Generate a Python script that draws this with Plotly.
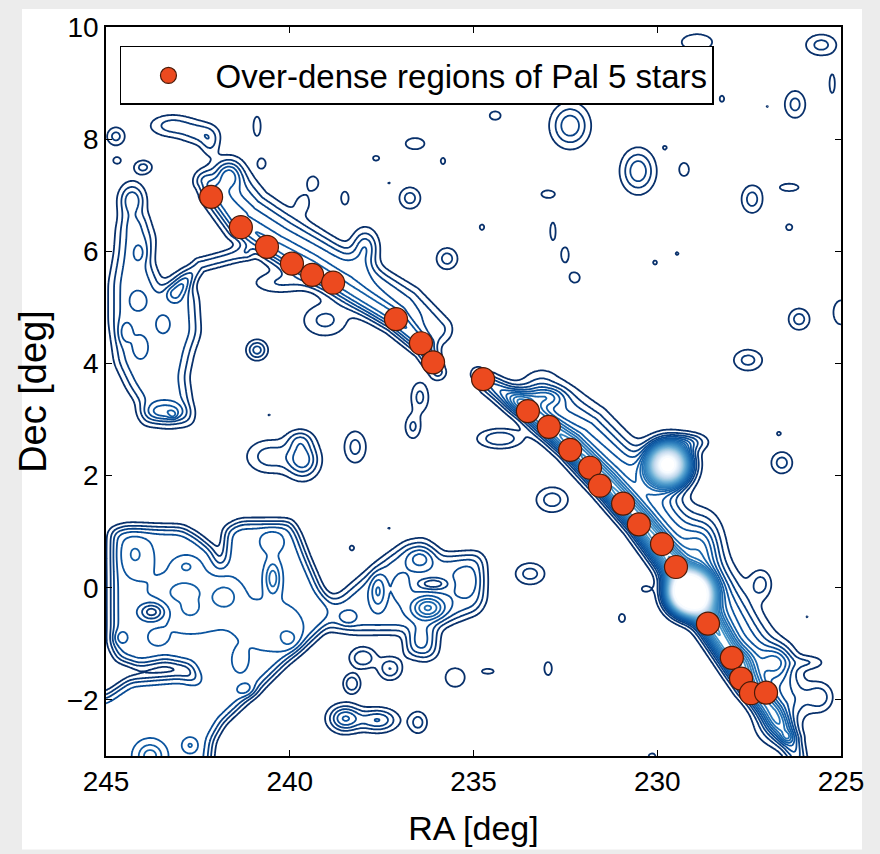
import numpy as np
import plotly.graph_objects as go

# ---------------- data ----------------
# Over-dense regions of Pal 5 stars (RA, Dec in deg)
pal5_ra = [242.14, 241.33, 240.62, 239.94, 239.39, 238.82, 237.11, 236.43, 236.10,
           234.74, 233.52, 232.95, 232.37, 231.83, 231.56, 230.93, 230.50, 229.87,
           229.49, 228.62, 227.97, 227.72, 227.45, 227.04]
pal5_dec = [6.97, 6.43, 6.08, 5.78, 5.58, 5.44, 4.79, 4.36, 4.02,
            3.72, 3.15, 2.87, 2.46, 2.14, 1.82, 1.50, 1.13, 0.78,
            0.37, -0.64, -1.25, -1.62, -1.88, -1.87]

# Isolated small over-densities in the map (RA, Dec, widths in deg, peak level)
noise_ra = [243.20, 242.44, 242.17, 240.89, 244.73, 244.70, 243.99, 244.29, 239.37, 239.64,
            238.50, 237.95, 237.65, 237.30, 236.73, 236.59, 235.72, 235.83, 234.77, 234.41,
            232.97, 232.84, 232.51, 232.24, 232.37, 230.52, 229.79, 229.27, 230.06, 229.46,
            228.24, 227.01, 226.25, 225.54, 225.24, 228.92, 227.42, 226.41, 226.41, 226.14,
            225.00, 227.53, 226.61, 226.69, 225.92, 225.57, 227.18, 230.33, 230.96, 232.97,
            233.46, 232.86, 230.14,
            240.54, 239.64, 239.72, 238.22, 236.46, 236.65, 240.56, 238.31, 237.30,
            238.50, 237.60, 236.51, 238.31, 238.01, 237.27, 235.50, 234.61]
noise_dec = [8.24, 8.10, 7.92, 8.23, 8.05, 7.62, 7.50, 6.91, 7.22, 6.86,
             6.95, 6.06, 7.66, 7.22, 6.95, 7.92, 5.87, 7.61, 6.43, 8.42,
             7.02, 6.36, 5.94, 5.53, 8.24, 7.43, 7.85, 7.46, 5.80, 5.96,
             8.72, 8.58, 8.62, 9.68, 8.99, 9.73, 6.93, 7.14, 6.43, 4.79,
             4.91, 4.06, 2.23, 2.75, -0.52, -1.95, 0.07, -0.02, -0.54, -1.44,
             0.25, 1.57, -3.02,
             2.34, 2.28, 2.64, 2.51, 3.40, 2.87, 3.08, 0.71, 1.06,
             -2.33, -2.36, -2.40, -1.71, -1.25, -1.44, -1.60, -1.49]
noise_sig_ra = [0.43, 0.35, 0.18, 0.12, 0.18, 0.14, 0.18, 0.25, 0.18, 0.18,
                0.14, 0.25, 0.14, 0.07, 0.21, 0.31, 0.21, 0.10, 0.10, 0.18,
                0.25, 0.10, 0.14, 0.18, 0.35, 0.31, 0.09, 0.18, 0.10, 0.09,
                0.10, 0.07, 0.21, 0.31, 0.10, 0.35, 0.21, 0.35, 0.14, 0.21,
                0.25, 0.29, 0.21, 0.10, 0.07, 0.25, 0.21, 0.14, 0.14, 0.14,
                0.29, 0.31, 0.14,
                0.45, 0.30, 0.25, 0.22, 0.18, 0.16, 0.07, 0.10, 0.07,
                0.30, 0.36, 0.18, 0.16, 0.25, 0.22, 0.22, 0.22]
noise_sig_dec = [0.14, 0.14, 0.16, 0.21, 0.12, 0.08, 0.09, 0.21, 0.14, 0.14,
                 0.16, 0.23, 0.07, 0.045, 0.14, 0.12, 0.14, 0.09, 0.08, 0.09,
                 0.09, 0.21, 0.18, 0.12, 0.26, 0.26, 0.06, 0.16, 0.07, 0.06,
                 0.09, 0.045, 0.18, 0.14, 0.23, 0.12, 0.18, 0.09, 0.09, 0.14,
                 0.26, 0.14, 0.14, 0.06, 0.045, 0.18, 0.18, 0.07, 0.12, 0.16,
                 0.14, 0.16, 0.09,
                 0.21, 0.22, 0.13, 0.21, 0.20, 0.16, 0.045, 0.07, 0.045,
                 0.16, 0.14, 0.14, 0.12, 0.13, 0.14, 0.14, 0.06]
noise_amp = [2.5, 2.2, 1.8, 1.4, 2.4, 1.3, 2.4, 3.8, 1.4, 1.4,
             1.3, 3.8, 1.2, 1.05, 2.5, 1.4, 2.5, 1.2, 1.2, 1.4,
             1.3, 1.3, 1.3, 1.3, 3.8, 3.8, 1.1, 1.3, 1.15, 1.1,
             1.2, 1.05, 2.4, 2.4, 1.3, 2.0, 2.5, 1.3, 1.2, 2.5,
             1.4, 2.4, 2.5, 1.15, 1.05, 2.5, 2.4, 1.2, 1.2, 1.3,
             2.5, 2.6, 1.3,
             2.6, 4.5, 2.2, 2.4, 2.3, 2.2, 1.05, 1.2, 1.05,
             5.0, 4.0, 2.5, 3.0, 3.0, 3.0, 2.0, 1.3]

# Outlines of the extended over-dense fields (RA, Dec vertices) and their plateau level
ll_ra = [244.84, 244.48, 242.93, 242.55, 242.12, 241.90, 241.79, 241.73, 241.35, 239.99,
         239.80, 239.53, 239.18, 238.82, 238.90, 239.45, 240.13, 240.76, 241.35, 241.84,
         242.12, 242.22, 245.16, 245.16, 244.84, 244.35, 242.99, 242.52, 242.71, 243.39,
         244.07, 244.67, 244.84]
ll_dec = [1.01, 1.08, 1.06, 0.92, 0.69, 0.37, 0.48, 1.04, 1.17, 1.17,
          0.97, 0.51, -0.02, -0.32, -0.62, -0.94, -1.33, -1.74, -2.10, -2.40,
          -2.72, -3.25, -3.25, -2.01, -1.87, -1.65, -1.58, -1.65, -1.39, -1.30,
          -1.39, -1.26, -1.03]
mid_ra = [239.18, 238.63, 238.01, 237.35, 236.81, 236.37, 236.10, 235.83, 234.90, 234.74,
          234.74, 234.90, 235.64, 235.99, 236.05, 236.27, 236.78, 236.81, 237.54, 238.28,
          238.90, 239.18]
mid_dec = [-0.23, -0.18, 0.17, 0.53, 0.78, 0.83, 0.71, 0.56, 0.60, 0.48,
           -0.23, -0.41, -0.59, -0.71, -1.17, -1.25, -1.17, -0.77, -0.77, -0.77,
           -0.71, -0.64]
left_ra = [244.48, 243.94, 243.75, 243.80, 243.53, 242.85, 242.58, 242.52, 242.71, 242.85,
           242.77, 242.71, 243.26, 243.94, 244.07, 244.35, 244.67, 244.81, 244.81, 244.67,
           244.62]
left_dec = [6.63, 6.59, 6.24, 5.80, 5.35, 5.62, 5.18, 4.55, 4.20, 3.76,
            3.40, 2.96, 2.91, 2.96, 3.31, 3.58, 4.02, 4.73, 5.44, 5.97,
            6.42]
field_levels = [4.6, 3.7, 3.6]

# Peaks (+) and holes (-) inside the fields and round the stream
bump_ra = [243.75, 244.21, 242.82, 244.62, 243.59, 240.46, 240.48, 241.35, 241.16, 243.80,
           242.71, 242.71, 240.54, 242.90, 242.71, 241.73, 239.99,
           236.46, 237.60, 236.24, 236.10, 238.42, 235.15, 236.95, 236.46,
           244.07, 244.13, 243.45, 243.18, 243.39, 244.48, 244.07,
           233.05, 234.28, 233.73, 229.71, 229.11, 228.70, 229.11, 227.61, 226.71, 225.90,
           226.80, 226.47, 241.63, 240.76, 239.04, 240.27, 240.89]
bump_dec = [-0.43, 0.60, 0.39, -0.89, -0.89, 0.17, 0.83, -1.30, -1.83, -3.00,
            -2.81, -0.23, -0.68, -0.06, -0.36, -0.15, -0.94,
            0.51, -0.06, -0.36, 0.07, -0.54, 0.12, 0.00, -0.94,
            5.97, 5.12, 4.70, 3.08, 3.14, 4.55, 4.29,
            3.40, 2.66, 3.35, 2.20, 2.60, 0.83, -0.09, -1.30, -1.30, -1.33,
            -2.45, -2.66, 7.36, 7.57, 4.77, 5.44, 4.24]
bump_sig_ra = [0.24, 0.30, 0.22, 0.14, 0.16, 0.14, 0.22, 0.14, 0.19, 0.25,
               0.14, 0.80, 0.60, 0.27, 0.14, 0.27, 0.22,
               0.22, 0.14, 0.30, 0.27, 0.16, 0.27, 0.16, 0.25,
               0.16, 0.16, 0.14, 0.08, 0.38, 0.14, 0.14,
               0.35, 0.42, 0.22, 0.35, 0.33, 0.33, 0.33, 0.27, 0.30, 0.33,
               0.38, 0.11, 0.24, 0.11, 0.44, 0.54, 0.19]
bump_sig_dec = [0.11, 0.25, 0.11, 0.09, 0.09, 0.20, 0.14, 0.14, 0.09, 0.16,
                0.09, 0.40, 0.30, 0.11, 0.09, 0.18, 0.14,
                0.12, 0.20, 0.14, 0.07, 0.09, 0.20, 0.16, 0.20,
                0.14, 0.12, 0.12, 0.05, 0.11, 0.14, 0.14,
                0.12, 0.12, 0.14, 0.23, 0.11, 0.35, 0.21, 0.18, 0.20, 0.09,
                0.25, 0.07, 0.16, 0.09, 0.21, 0.14, 0.12]
bump_amp = [-3.5, 1.5, 1.2, 1.2, 1.2, 3.0, 1.3, 1.3, 1.3, 3.0,
            1.5, 1.2, 1.2, 1.2, 1.2, 1.3, 1.2,
            2.0, 2.5, 4.5, -2.5, 1.3, 1.2, 1.2, 1.0,
            1.0, 1.3, 1.0, 1.5, 2.5, 1.3, 1.3,
            3.5, 3.0, 2.0, 35.0, 3.0, 3.0, 60.0, 2.0, 3.5, 1.8,
            2.5, 2.0, 2.5, 1.5, 2.3, 2.0, 3.5]

# Stream ridges: core of each arm plus the broader upper-right envelope
arm1_ra = [242.31, 242.03, 241.35, 240.40, 239.45, 238.50, 237.14, 236.32, 235.97]
arm1_dec = [7.25, 7.04, 6.47, 6.06, 5.71, 5.35, 4.80, 4.29, 3.85]
arm1_amp = [3.0, 4.5, 5.0, 5.5, 6.0, 6.0, 6.0, 5.0, 2.5]
arm1_w = [0.14, 0.17, 0.18, 0.18, 0.18, 0.18, 0.16, 0.13, 0.11]
env1_ra = [241.68, 241.00, 240.05, 239.10, 238.14, 236.78, 235.97]
env1_dec = [7.36, 6.79, 6.38, 6.03, 5.67, 5.12, 4.61]
env1_amp = [3.0, 3.5, 3.5, 3.5, 3.5, 3.0, 2.5]
env1_w = [0.22, 0.22, 0.21, 0.19, 0.17, 0.19, 0.19]
arm2_ra = [234.88, 234.55, 233.60, 232.37, 231.42, 230.47, 229.65, 228.84, 228.16,
           227.48, 226.88, 226.39, 226.17]
arm2_dec = [3.81, 3.63, 3.22, 2.55, 1.89, 1.18, 0.48, -0.32, -1.03, -1.71, -2.22, -2.72, -3.07]
arm2_amp = [2.0, 4.0, 7.0, 9.0, 10.0, 11.0, 12.0, 12.0, 11.0, 9.0, 7.0, 5.0, 3.0]
arm2_w = [0.11, 0.13, 0.15, 0.16, 0.16, 0.16, 0.17, 0.17, 0.16, 0.16, 0.15, 0.14, 0.12]
env2_ra = [233.14, 231.91, 230.96, 230.01, 229.19, 228.37, 227.69, 227.01, 226.41]
env2_dec = [3.49, 2.82, 2.16, 1.45, 0.74, -0.06, -0.77, -1.44, -1.95]
env2_amp = [3.0, 4.5, 5.0, 5.0, 5.0, 5.0, 4.5, 4.0, 3.0]
env2_w = [0.26, 0.28, 0.28, 0.28, 0.28, 0.28, 0.28, 0.28, 0.26]

# Thin filament joining the left structure to the leading arm
fil_ra = [243.12, 242.44, 241.22]
fil_dec = [5.26, 5.76, 5.97]
fil_amp = [2.3, 2.3, 2.3]
fil_w = [0.10, 0.10, 0.10]

legend_name = "Over-dense regions of Pal 5 stars"
x_ticks = [245, 240, 235, 230, 225]
y_ticks = [-2, 0, 2, 4, 6, 8, 10]

# ---------------- density grid ----------------
ra_grid = np.linspace(245, 225, 561)
dec_grid = np.linspace(-3, 10, 561)
GR, GD = np.meshgrid(ra_grid, dec_grid)
K = 36.75 / 56.38  # screen aspect of one RA degree relative to one Dec degree
GX = (245 - GR) * K
EDGE = 2.2 / 56.38  # softness of field edges (deg)
BLUR_CELLS = 3.5    # smoothing of the extended fields, in grid cells


def gauss_sum(ras, decs, srs, sds, amps):
    out = np.zeros_like(GR)
    for ra, dec, sr, sd, a in zip(ras, decs, srs, sds, amps):
        q = ((GR - ra) / sr) ** 2 + ((GD - dec) / sd) ** 2
        out += a * np.exp(-0.5 * q)
    return out


def poly_field(ras, decs, level, tau=EDGE):
    xs = (245 - np.asarray(ras)) * K
    ys = np.asarray(decs)
    n = len(xs)
    dmin = np.full(GR.shape, np.inf)
    inside = np.zeros(GR.shape, dtype=bool)
    for i in range(n):
        x0, y0, x1, y1 = xs[i], ys[i], xs[(i + 1) % n], ys[(i + 1) % n]
        dx, dy = x1 - x0, y1 - y0
        t = np.clip(((GX - x0) * dx + (GD - y0) * dy) / (dx * dx + dy * dy), 0, 1)
        dmin = np.minimum(dmin, np.hypot(GX - x0 - t * dx, GD - y0 - t * dy))
        if y1 != y0:
            cross = (y0 > GD) != (y1 > GD)
            xint = x0 + (GD - y0) * dx / dy
            inside ^= cross & (GX < xint)
    sd = np.where(inside, dmin, -dmin)
    return level / (1 + np.exp(-sd / tau))


def blur(A, s):
    r = int(3 * s)
    k = np.exp(-0.5 * (np.arange(-r, r + 1) / s) ** 2)
    k /= k.sum()
    pad = np.pad(A, r, mode='edge')
    pad = np.apply_along_axis(lambda m: np.convolve(m, k, mode='same'), 0, pad)
    pad = np.apply_along_axis(lambda m: np.convolve(m, k, mode='same'), 1, pad)
    return pad[r:-r, r:-r]


def ridge(ras, decs, amps, ws):
    out = np.zeros_like(GR)
    xs = [(245 - r) * K for r in ras]
    for i in range(len(ras) - 1):
        x0, y0, x1, y1 = xs[i], decs[i], xs[i + 1], decs[i + 1]
        dx, dy = x1 - x0, y1 - y0
        L2 = dx * dx + dy * dy
        t = np.clip(((GX - x0) * dx + (GD - y0) * dy) / L2, 0, 1)
        d2 = (GX - x0 - t * dx) ** 2 + (GD - y0 - t * dy) ** 2
        a = amps[i] + t * (amps[i + 1] - amps[i])
        w = ws[i] + t * (ws[i + 1] - ws[i])
        out = np.maximum(out, a * np.exp(-0.5 * d2 / w ** 2))
    return out


fields = np.maximum.reduce([poly_field(ll_ra, ll_dec, field_levels[0]),
                            poly_field(mid_ra, mid_dec, field_levels[1], EDGE * 1.4),
                            poly_field(left_ra, left_dec, field_levels[2], EDGE * 1.6)])
Z = blur(fields, BLUR_CELLS)
Z += gauss_sum(noise_ra, noise_dec, noise_sig_ra, noise_sig_dec, noise_amp)
Z += gauss_sum(bump_ra, bump_dec, bump_sig_ra, bump_sig_dec, bump_amp)
Z += ridge(arm1_ra, arm1_dec, arm1_amp, arm1_w) + ridge(env1_ra, env1_dec, env1_amp, env1_w)
Z += ridge(arm2_ra, arm2_dec, arm2_amp, arm2_w) + ridge(env2_ra, env2_dec, env2_amp, env2_w)
Z += ridge(fil_ra, fil_dec, fil_amp, fil_w)

blues_r = [[0.0, '#08306b'], [0.125, '#08519c'], [0.25, '#2171b5'], [0.375, '#4292c6'],
           [0.5, '#6baed6'], [0.625, '#9ecae1'], [0.75, '#c6dbef'], [0.875, '#deebf7'],
           [1.0, '#f7fbff']]

fig = go.Figure()
fig.add_trace(go.Contour(
    x=ra_grid, y=dec_grid, z=Z,
    contours=dict(start=1, end=30, size=1, coloring='lines', showlabels=False),
    colorscale=blues_r, zmin=1, zmax=30, zauto=False,
    line=dict(width=1.8, smoothing=1),
    showscale=False, showlegend=False, hoverinfo='skip'))

fig.add_trace(go.Scatter(
    x=pal5_ra, y=pal5_dec, mode='markers', name=legend_name,
    marker=dict(size=23, color='#ec4a1f', line=dict(color='#4a1a08', width=1.2))))

font_family = "Liberation Sans, Arial, sans-serif"
fig.update_layout(
    width=880, height=854,
    margin=dict(l=106, r=39, t=23, b=98),
    paper_bgcolor='#ececec', plot_bgcolor='white',
    font=dict(family=font_family, color='black', size=28),
    showlegend=True,
    legend=dict(x=0.019, y=0.974, xanchor='left', yanchor='top',
                bgcolor='white', bordercolor='black', borderwidth=1.5,
                font=dict(size=33, family=font_family), itemwidth=84),
    shapes=[dict(type='rect', xref='paper', yref='paper', x0=-0.1143, x1=1.0286,
                 y0=-0.1282, y1=1.0246, fillcolor='white', line=dict(width=0),
                 layer='below')],
)
fig.update_xaxes(range=[245, 225], tickvals=x_ticks, ticks='inside', ticklen=6,
                 tickcolor='black', showline=True, linecolor='black', linewidth=1.5,
                 mirror='ticks', showgrid=False, zeroline=False,
                 tickfont=dict(size=28),
                 title=dict(text='RA [deg]', font=dict(size=34), standoff=20))
fig.update_yaxes(range=[-3, 10], tickvals=y_ticks, ticks='inside', ticklen=6,
                 tickcolor='black', showline=True, linecolor='black', linewidth=1.5,
                 mirror='ticks', showgrid=False, zeroline=False,
                 tickfont=dict(size=28),
                 title=dict(text='Dec [deg]', font=dict(size=38), standoff=8))

fig.write_html("out.html")
